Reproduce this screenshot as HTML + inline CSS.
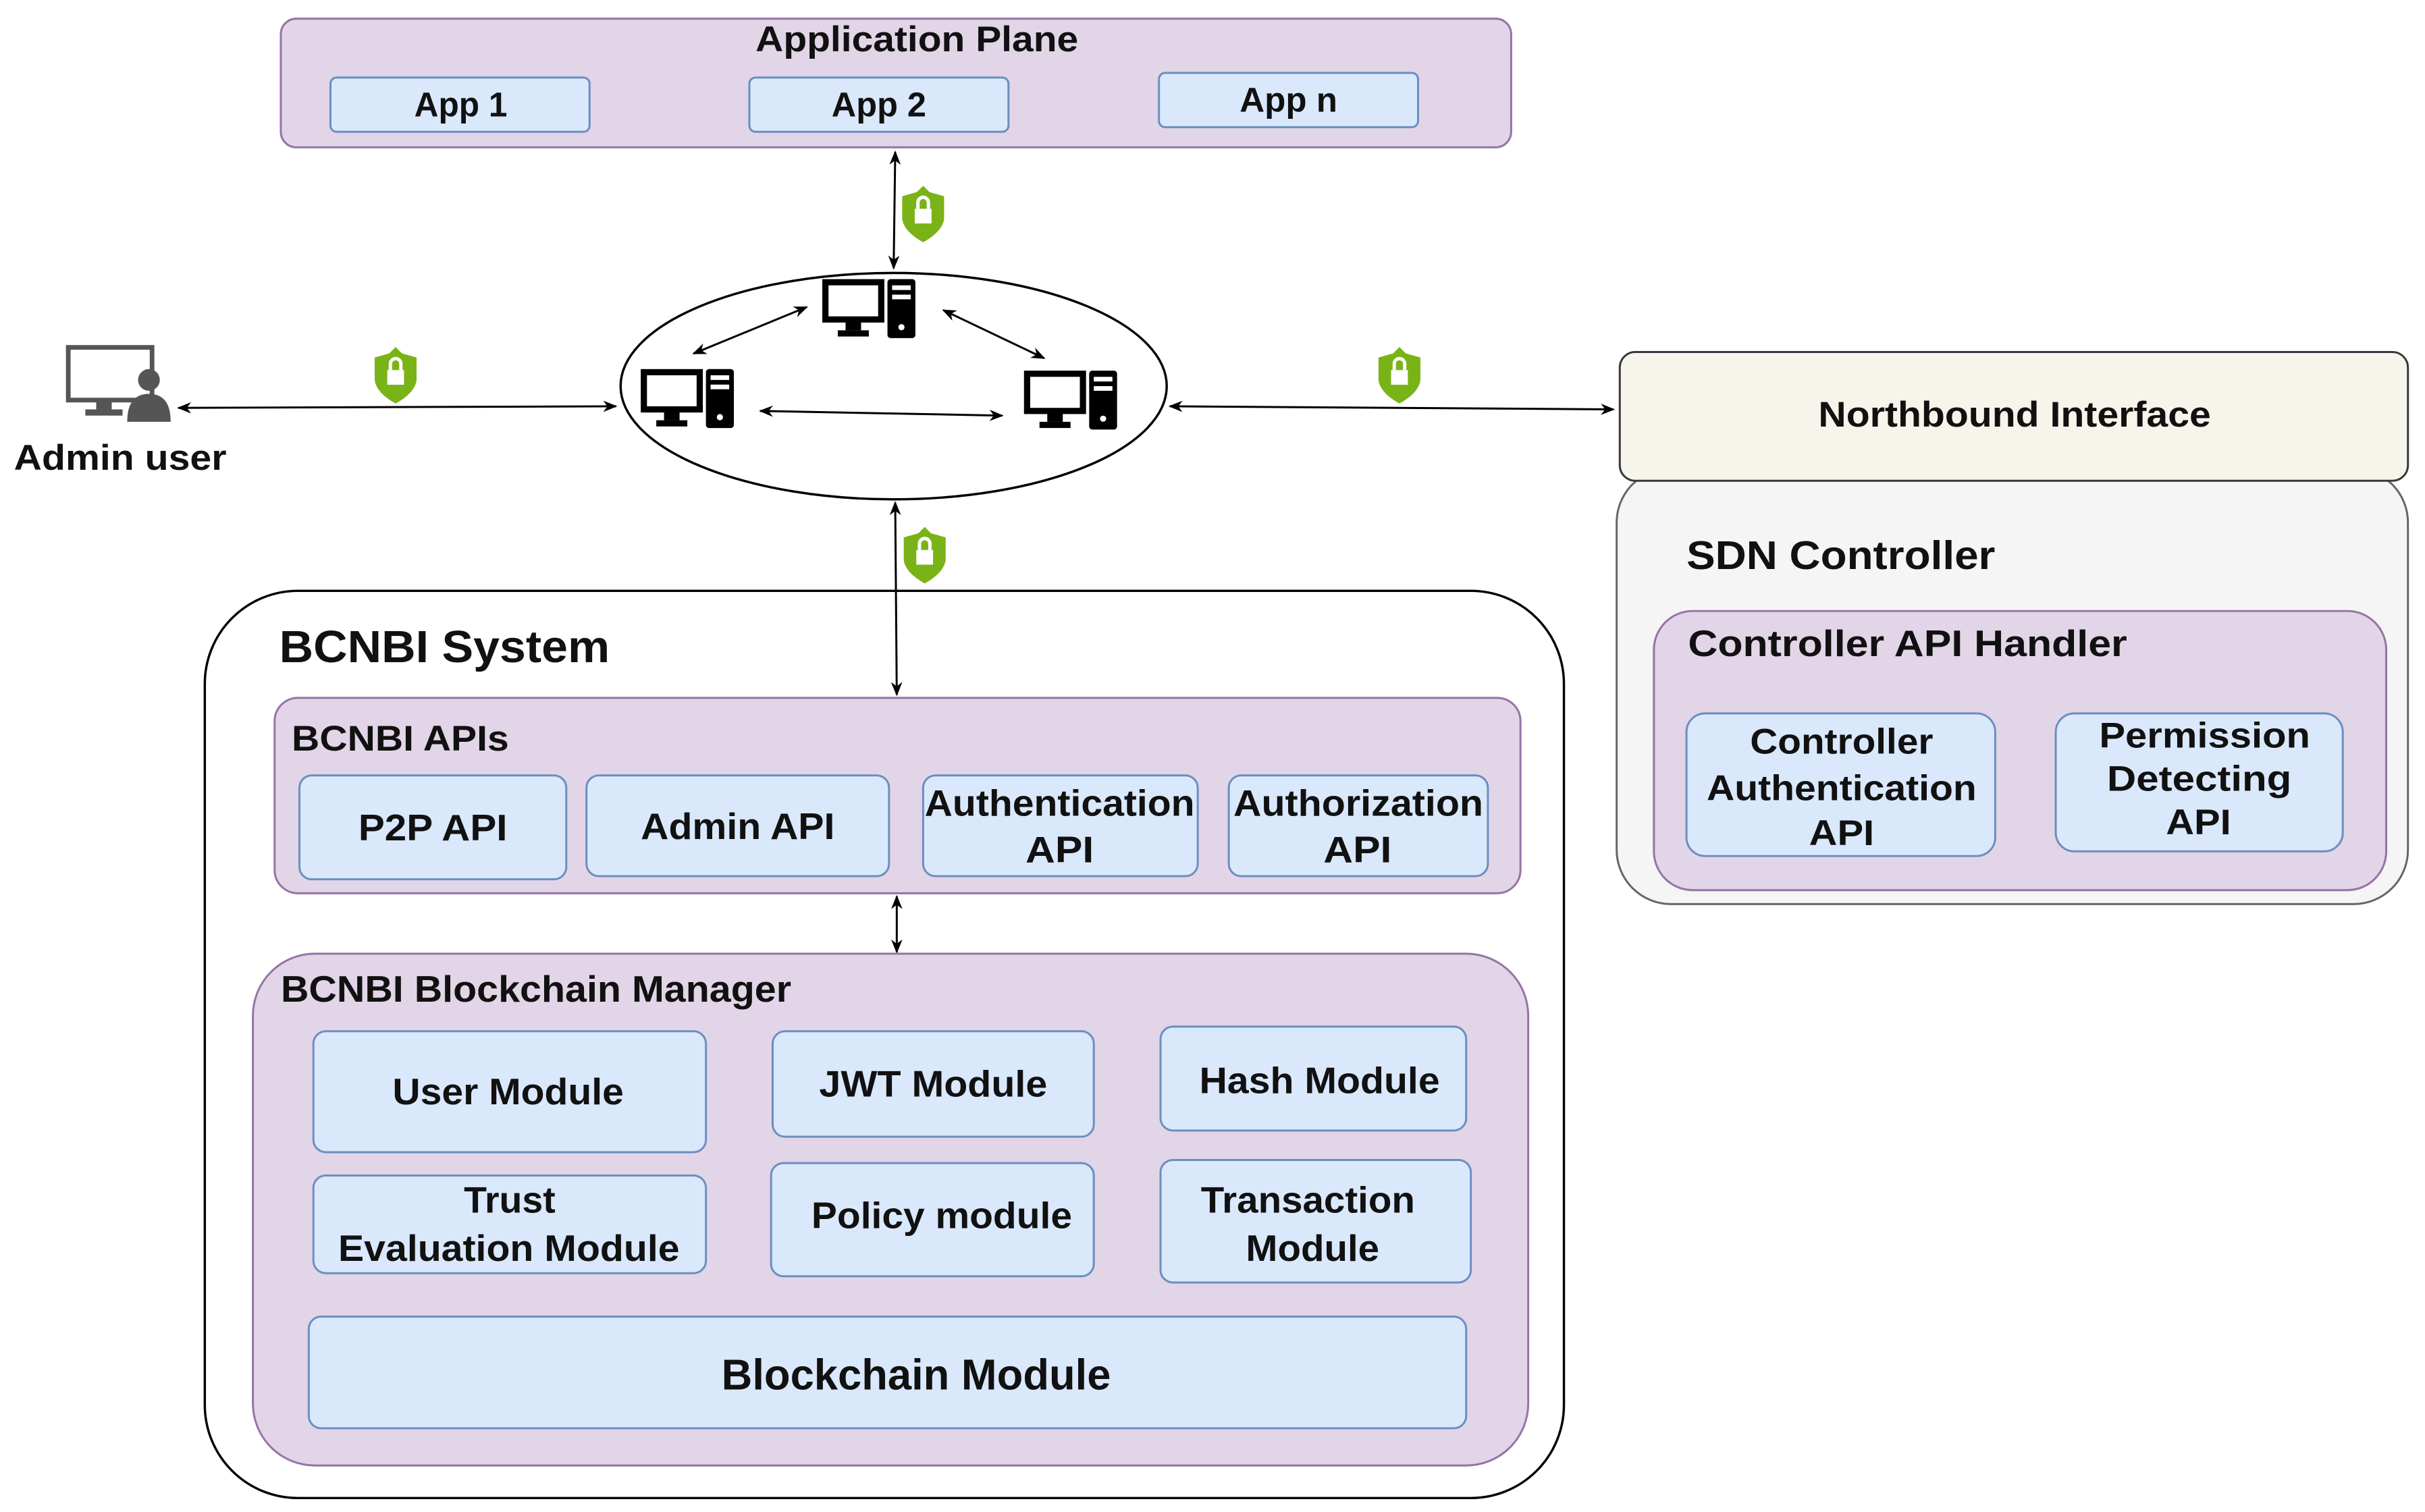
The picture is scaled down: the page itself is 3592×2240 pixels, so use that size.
<!DOCTYPE html>
<html><head><meta charset="utf-8"><style>
html,body{margin:0;padding:0;background:#fff;}
svg{display:block}
text{font-family:"Liberation Sans",sans-serif;font-weight:bold;fill:#111;}
</style></head><body>
<svg width="3592" height="2240" viewBox="0 0 1563 975" preserveAspectRatio="none" xmlns="http://www.w3.org/2000/svg">
<defs>
<marker id="a" viewBox="0 0 10 10" refX="9" refY="5" markerWidth="7" markerHeight="7" orient="auto-start-reverse"><path d="M0,1 L10,5 L0,9 L3,5 z" fill="#000"/></marker>
<g id="sh"><g transform="scale(1.35)"><path d="M0,-12 L3,-9 L10,-7 L10,4 Q9,10 0,15 Q-9,10 -10,4 L-10,-7 L-3,-9 Z" fill="#7ab317"/><rect x="-4" y="-1" width="8" height="7" fill="#fff"/><path d="M-2.5,-1 V-4 A2.5,2.5 0 0 1 2.5,-4 V-1" stroke="#fff" stroke-width="1.6" fill="none"/></g></g>
<g id="pc"><rect x="2" y="2" width="36" height="24" fill="none" stroke="#000" stroke-width="4"/><rect x="15" y="27" width="10" height="6" fill="#000"/><rect x="10" y="33" width="20" height="4" fill="#000"/><rect x="42" y="0" width="18" height="38" rx="2" fill="#000"/><rect x="45" y="4" width="12" height="3" fill="#fff"/><rect x="45" y="10" width="12" height="3" fill="#fff"/><circle cx="51" cy="31" r="2" fill="#fff"/></g>
</defs>
<g stroke-width="1.3">
<rect x="181" y="12" width="793" height="83" rx="10" fill="#e1d5e7" stroke="#9673a6"/>
<text x="487" y="33" font-size="23" textLength="208" lengthAdjust="spacingAndGlyphs">Application Plane</text>
<rect x="213" y="50" width="167" height="35" rx="4" fill="#dae8fc" stroke="#6c8ebf"/>
<text x="267" y="75" font-size="22" textLength="60" lengthAdjust="spacingAndGlyphs">App 1</text>
<rect x="483" y="50" width="167" height="35" rx="4" fill="#dae8fc" stroke="#6c8ebf"/>
<text x="536" y="75" font-size="22" textLength="61" lengthAdjust="spacingAndGlyphs">App 2</text>
<rect x="747" y="47" width="167" height="35" rx="4" fill="#dae8fc" stroke="#6c8ebf"/>
<text x="799" y="72" font-size="22" textLength="63" lengthAdjust="spacingAndGlyphs">App n</text>

<line x1="577" y1="98" x2="576" y2="173" stroke="#000" marker-start="url(#a)" marker-end="url(#a)"/>
<use href="#sh" x="595" y="136"/>
<ellipse cx="576" cy="249" rx="176" ry="73" fill="#fff" stroke="#000" stroke-width="1.5"/>
<use href="#pc" x="530" y="180"/>
<use href="#pc" x="413" y="238"/>
<use href="#pc" x="660" y="239"/>
<line x1="447" y1="228" x2="520" y2="198" stroke="#000" marker-start="url(#a)" marker-end="url(#a)"/>
<line x1="608" y1="200" x2="673" y2="231" stroke="#000" marker-start="url(#a)" marker-end="url(#a)"/>
<line x1="490" y1="265" x2="646" y2="268" stroke="#000" marker-start="url(#a)" marker-end="url(#a)"/>

<rect x="44" y="224" width="54" height="34" fill="none" stroke="#555" stroke-width="3"/>
<rect x="62" y="258" width="10" height="6" fill="#555"/><rect x="55" y="264" width="24" height="4" fill="#555"/>
<circle cx="96" cy="245" r="7" fill="#555"/><path d="M82,272 Q82,254 96,254 Q110,254 110,272 Z" fill="#555"/>
<text x="9" y="303" font-size="23" textLength="137" lengthAdjust="spacingAndGlyphs">Admin user</text>
<line x1="115" y1="263" x2="397" y2="262" stroke="#000" marker-start="url(#a)" marker-end="url(#a)"/>
<use href="#sh" x="255" y="240"/>
<line x1="754" y1="262" x2="1040" y2="264" stroke="#000" marker-start="url(#a)" marker-end="url(#a)"/>
<use href="#sh" x="902" y="240"/>

<rect x="1042" y="302" width="510" height="281" rx="35" fill="#f5f5f5" stroke="#666"/>
<rect x="1044" y="227" width="508" height="83" rx="10" fill="#f7f4eb" stroke="#36393d"/>
<text x="1172" y="275" font-size="23" textLength="253" lengthAdjust="spacingAndGlyphs">Northbound Interface</text>
<text x="1087" y="367" font-size="26" textLength="199" lengthAdjust="spacingAndGlyphs">SDN Controller</text>
<rect x="1066" y="394" width="472" height="180" rx="25" fill="#e1d5e7" stroke="#9673a6"/>
<text x="1088" y="423" font-size="24" textLength="283" lengthAdjust="spacingAndGlyphs">Controller API Handler</text>
<rect x="1087" y="460" width="199" height="92" rx="12" fill="#dae8fc" stroke="#6c8ebf"/>
<text x="1128" y="486" font-size="23" textLength="118" lengthAdjust="spacingAndGlyphs">Controller</text>
<text x="1100" y="516" font-size="23" textLength="174" lengthAdjust="spacingAndGlyphs">Authentication</text>
<text x="1166" y="545" font-size="23" textLength="42" lengthAdjust="spacingAndGlyphs">API</text>
<rect x="1325" y="460" width="185" height="89" rx="12" fill="#dae8fc" stroke="#6c8ebf"/>
<text x="1353" y="482" font-size="23" textLength="136" lengthAdjust="spacingAndGlyphs">Permission</text>
<text x="1358" y="510" font-size="23" textLength="119" lengthAdjust="spacingAndGlyphs">Detecting</text>
<text x="1396" y="538" font-size="23" textLength="42" lengthAdjust="spacingAndGlyphs">API</text>

<rect x="132" y="381" width="876" height="585" rx="60" fill="none" stroke="#000" stroke-width="1.5"/>
<line x1="577" y1="324" x2="578" y2="448" stroke="#000" marker-start="url(#a)" marker-end="url(#a)"/>
<use href="#sh" x="596" y="356"/>
<text x="180" y="427" font-size="29" textLength="213" lengthAdjust="spacingAndGlyphs">BCNBI System</text>
<rect x="177" y="450" width="803" height="126" rx="15" fill="#e1d5e7" stroke="#9673a6"/>
<text x="188" y="484" font-size="23" textLength="140" lengthAdjust="spacingAndGlyphs">BCNBI APIs</text>
<rect x="193" y="500" width="172" height="67" rx="8" fill="#dae8fc" stroke="#6c8ebf"/>
<text x="231" y="542" font-size="24" textLength="96" lengthAdjust="spacingAndGlyphs">P2P API</text>
<rect x="378" y="500" width="195" height="65" rx="8" fill="#dae8fc" stroke="#6c8ebf"/>
<text x="413" y="541" font-size="24" textLength="125" lengthAdjust="spacingAndGlyphs">Admin API</text>
<rect x="595" y="500" width="177" height="65" rx="8" fill="#dae8fc" stroke="#6c8ebf"/>
<text x="596" y="526" font-size="24" textLength="174" lengthAdjust="spacingAndGlyphs">Authentication</text>
<text x="661" y="556" font-size="24" textLength="44" lengthAdjust="spacingAndGlyphs">API</text>
<rect x="792" y="500" width="167" height="65" rx="8" fill="#dae8fc" stroke="#6c8ebf"/>
<text x="795" y="526" font-size="24" textLength="161" lengthAdjust="spacingAndGlyphs">Authorization</text>
<text x="853" y="556" font-size="24" textLength="44" lengthAdjust="spacingAndGlyphs">API</text>
<line x1="578" y1="578" x2="578" y2="614" stroke="#000" marker-start="url(#a)" marker-end="url(#a)"/>

<rect x="163" y="615" width="822" height="330" rx="40" fill="#e1d5e7" stroke="#9673a6"/>
<text x="181" y="646" font-size="24" textLength="329" lengthAdjust="spacingAndGlyphs">BCNBI Blockchain Manager</text>
<rect x="202" y="665" width="253" height="78" rx="8" fill="#dae8fc" stroke="#6c8ebf"/>
<text x="253" y="712" font-size="24" textLength="149" lengthAdjust="spacingAndGlyphs">User Module</text>
<rect x="498" y="665" width="207" height="68" rx="8" fill="#dae8fc" stroke="#6c8ebf"/>
<text x="528" y="707" font-size="24" textLength="147" lengthAdjust="spacingAndGlyphs">JWT Module</text>
<rect x="748" y="662" width="197" height="67" rx="8" fill="#dae8fc" stroke="#6c8ebf"/>
<text x="773" y="705" font-size="24" textLength="155" lengthAdjust="spacingAndGlyphs">Hash Module</text>
<rect x="202" y="758" width="253" height="63" rx="8" fill="#dae8fc" stroke="#6c8ebf"/>
<text x="299" y="782" font-size="24" textLength="59" lengthAdjust="spacingAndGlyphs">Trust</text>
<text x="218" y="813" font-size="24" textLength="220" lengthAdjust="spacingAndGlyphs">Evaluation Module</text>
<rect x="497" y="750" width="208" height="73" rx="8" fill="#dae8fc" stroke="#6c8ebf"/>
<text x="523" y="792" font-size="24" textLength="168" lengthAdjust="spacingAndGlyphs">Policy module</text>
<rect x="748" y="748" width="200" height="79" rx="8" fill="#dae8fc" stroke="#6c8ebf"/>
<text x="774" y="782" font-size="24" textLength="138" lengthAdjust="spacingAndGlyphs">Transaction</text>
<text x="803" y="813" font-size="24" textLength="86" lengthAdjust="spacingAndGlyphs">Module</text>
<rect x="199" y="849" width="746" height="72" rx="8" fill="#dae8fc" stroke="#6c8ebf"/>
<text x="465" y="896" font-size="28" textLength="251" lengthAdjust="spacingAndGlyphs">Blockchain Module</text>
</g>
</svg>
</body></html>
